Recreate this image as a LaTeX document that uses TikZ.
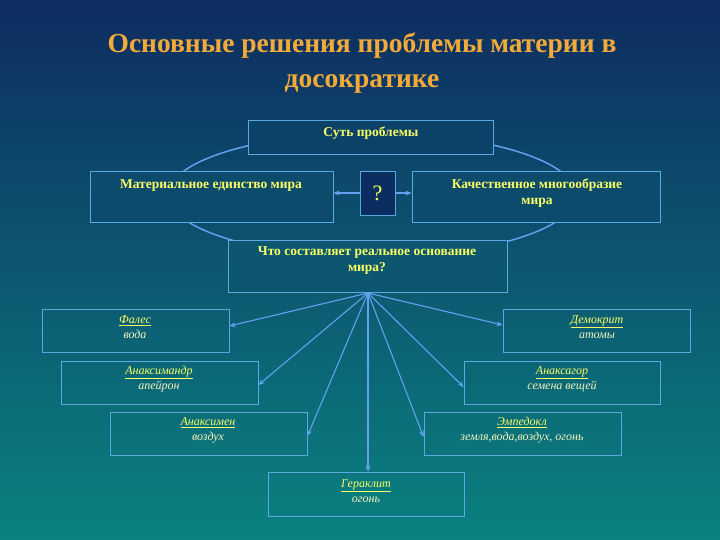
\documentclass[tikz,border=0pt]{standalone}
\usepackage{fontspec}
\setmainfont{Liberation Serif}
\usetikzlibrary{arrows.meta}
\definecolor{bgtop}{RGB}{14,44,96}
\definecolor{bgbot}{RGB}{10,130,128}
\definecolor{boxc}{RGB}{90,170,225}
\definecolor{arrc}{RGB}{100,160,240}
\definecolor{titlec}{RGB}{242,170,56}
\definecolor{txtc}{RGB}{250,255,100}
\definecolor{palec}{RGB}{245,245,190}
\definecolor{qfill}{RGB}{12,45,95}
\tikzset{
  box/.style={draw=boxc, line width=0.8pt, inner sep=0pt},
  toptext/.style={text=txtc, font={\fontsize{13.5}{16}\selectfont\bfseries}, align=center, inner sep=0pt},
  lowtext/.style={text=txtc, font={\fontsize{12}{15}\selectfont\itshape}, align=center, inner sep=0pt},
  arr/.style={draw=arrc, line width=1.1pt, -{Stealth[length=6pt,width=5pt]}},
}
\newcommand{\nm}[2]{\underline{#1}\\\textcolor{palec}{#2}}
\begin{document}
\begin{tikzpicture}[x=1pt,y=-1pt]
\shade[top color=bgtop, bottom color=bgbot] (0,0) rectangle (720,540);
\useasboundingbox (0,0) rectangle (720,540);
% title
\node[text=titlec, font={\fontsize{27.5}{35}\selectfont\bfseries}, align=center] (title) at (362,63)
  {Основные решения проблемы материи в\\досократике};
% ellipse
\draw[arrc, line width=1.5pt] (372,195) ellipse [x radius=204, y radius=62];
% upper boxes
\node[box, fill=bgbot!25!bgtop, minimum width=245pt, minimum height=34pt] (sut) at (370.5,137) {};
\node[toptext] (sutt) at (371,133) {Суть проблемы};
\node[box, fill=bgbot!36!bgtop, minimum width=243pt, minimum height=51pt] (mat) at (211.5,196.5) {};
\node[toptext] (matt) at (211,186) {Материальное единство мира};
\node[box, fill=qfill, minimum width=35pt, minimum height=44pt, font={\fontsize{22}{24}\selectfont}, text=txtc] (q) at (377.5,193) {?};
\node[box, fill=bgbot!36!bgtop, minimum width=248pt, minimum height=51pt] (kach) at (536,196.5) {};
\node[toptext] (kacht) at (537,193) {Качественное многообразие\\мира};
\draw[arr] (q.west) -- (mat.east |- q.west);
\draw[arr] (q.east) -- (kach.west |- q.east);
\node[box, fill=bgbot!49!bgtop, minimum width=279pt, minimum height=52pt] (chto) at (367.5,266) {};
\node[toptext] (chtot) at (367,261) {Что составляет реальное основание\\мира?};
\coordinate (hub) at (368,293);
% lower boxes
\node[box, minimum width=187pt, minimum height=43pt] (fal) at (135.5,330.5) {};
\node[lowtext] (falt) at (135,327) {\nm{Фалес}{вода}};
\node[box, minimum width=197pt, minimum height=43pt] (aman) at (159.5,382.5) {};
\node[lowtext] (amant) at (159,379) {\nm{Анаксимандр}{апейрон}};
\node[box, minimum width=197pt, minimum height=43pt] (amen) at (208.5,433.5) {};
\node[lowtext] (ament) at (208,430) {\nm{Анаксимен}{воздух}};
\node[box, minimum width=196pt, minimum height=44pt] (ger) at (366,494) {};
\node[lowtext] (gert) at (366,491) {\nm{Гераклит}{огонь}};
\node[box, minimum width=197pt, minimum height=43pt] (emp) at (522.5,433.5) {};
\node[lowtext] (empt) at (522,430) {\nm{Эмпедокл}{земля,вода,воздух, огонь}};
\node[box, minimum width=196pt, minimum height=43pt] (axag) at (562,382.5) {};
\node[lowtext] (axagt) at (562,379) {\nm{Анаксагор}{семена вещей}};
\node[box, minimum width=187pt, minimum height=43pt] (dem) at (596.5,330.5) {};
\node[lowtext] (demt) at (597,327) {\nm{Демокрит}{атомы}};
% arrows
\draw[arr] (hub) -- (fal.east |- 0,326);
\draw[arr] (hub) -- (aman.east |- 0,385);
\draw[arr] (hub) -- (amen.east |- 0,436);
\draw[arr] (hub) -- (ger.north -| hub);
\draw[arr] (hub) -- (emp.west |- 0,437);
\draw[arr] (hub) -- (axag.west |- 0,387);
\draw[arr] (hub) -- (dem.west |- 0,325);
\end{tikzpicture}
\end{document}
